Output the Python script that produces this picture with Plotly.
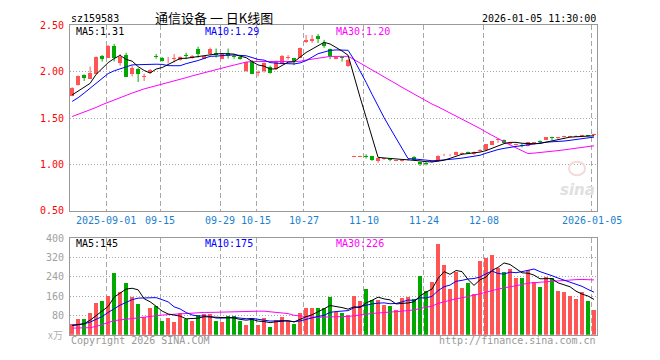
import plotly.graph_objects as go

# ---------------- data ----------------
open_ = [1.743,1.858,1.962,1.927,1.979,2.170,2.153,2.274,2.090,2.180,
         1.980,2.030,1.940,1.990,2.165,2.153,2.132,2.138,2.128,2.172,
         2.146,2.245,2.140,2.187,2.205,2.142,2.205,2.165,2.163,2.007,
         2.118,1.984,2.003,2.050,2.030,2.083,2.150,2.146,2.153,2.320,
         2.333,2.385,2.309,2.250,2.142,2.156,2.060,1.085,1.085,1.090,
         1.094,1.040,1.058,1.053,1.043,1.043,1.045,1.083,1.024,1.008,
         1.026,1.035,1.098,1.098,1.104,1.118,1.132,1.110,1.148,1.153,
         1.215,1.262,1.268,1.222,1.214,1.203,1.200,1.235,1.243,1.268,
         1.292,1.283,1.298,1.298,1.302,1.308,1.308,1.315]
high = [1.833,1.960,1.972,2.055,2.165,2.180,2.290,2.300,2.190,2.205,
        2.070,2.040,1.980,2.030,2.190,2.160,2.160,2.190,2.165,2.205,
        2.180,2.270,2.170,2.260,2.250,2.200,2.250,2.190,2.165,2.105,
        2.125,2.014,2.100,2.066,2.120,2.180,2.180,2.150,2.260,2.396,
        2.396,2.406,2.344,2.250,2.170,2.170,2.135,1.094,1.094,1.110,
        1.094,1.072,1.070,1.060,1.050,1.055,1.060,1.090,1.030,1.025,
        1.040,1.100,1.115,1.110,1.140,1.130,1.140,1.140,1.165,1.220,
        1.250,1.280,1.270,1.235,1.225,1.225,1.245,1.240,1.260,1.295,
        1.300,1.295,1.310,1.310,1.315,1.320,1.315,1.333]
low = [1.736,1.850,1.900,1.927,1.975,2.110,2.150,2.110,2.066,1.944,
       1.950,1.890,1.900,1.980,2.140,2.110,2.090,2.100,2.120,2.135,
       2.140,2.150,2.135,2.180,2.153,2.135,2.142,2.140,2.130,2.000,
       1.975,1.950,1.990,1.980,2.020,2.080,2.130,2.070,2.150,2.310,
       2.310,2.310,2.257,2.135,2.135,2.110,2.050,1.080,1.080,1.065,
       1.040,1.020,1.050,1.035,1.035,1.030,1.040,1.045,0.985,0.990,
       1.020,1.030,1.090,1.090,1.100,1.105,1.115,1.105,1.140,1.150,
       1.210,1.235,1.230,1.210,1.205,1.185,1.195,1.220,1.225,1.265,
       1.260,1.275,1.290,1.295,1.298,1.305,1.300,1.310]
close = [1.823,1.955,1.934,1.986,2.160,2.135,2.274,2.153,2.160,1.944,
         2.040,1.980,1.945,2.020,2.160,2.118,2.136,2.142,2.160,2.168,
         2.170,2.190,2.165,2.250,2.180,2.194,2.170,2.155,2.142,2.100,
         1.979,1.988,2.090,1.990,2.110,2.170,2.155,2.111,2.257,2.344,
         2.354,2.354,2.274,2.170,2.163,2.153,2.130,1.090,1.090,1.085,
         1.049,1.070,1.062,1.050,1.046,1.046,1.052,1.049,1.003,1.005,
         1.030,1.094,1.102,1.102,1.135,1.122,1.128,1.132,1.152,1.218,
         1.250,1.268,1.235,1.226,1.218,1.200,1.240,1.238,1.240,1.292,
         1.290,1.287,1.302,1.302,1.306,1.312,1.305,1.325]

ma5 = [1.750,1.790,1.830,1.875,1.972,2.034,2.098,2.142,2.176,2.133,
       2.114,2.055,2.014,1.986,2.029,2.045,2.076,2.115,2.143,2.145,
       2.155,2.166,2.171,2.189,2.191,2.196,2.192,2.190,2.168,2.152,
       2.109,2.073,2.060,2.029,2.031,2.070,2.103,2.107,2.161,2.207,
       2.244,2.284,2.317,2.299,2.263,2.223,2.178,1.941,1.725,1.510,
       1.289,1.077,1.071,1.063,1.055,1.055,1.051,1.049,1.039,1.031,
       1.028,1.036,1.047,1.067,1.093,1.111,1.118,1.124,1.134,1.150,
       1.176,1.204,1.225,1.239,1.239,1.229,1.224,1.224,1.227,1.242,
       1.260,1.269,1.282,1.295,1.297,1.302,1.305,1.310]
ma10 = [1.680,1.720,1.770,1.820,1.870,1.930,1.980,2.010,2.035,2.052,
        2.074,2.077,2.078,2.081,2.081,2.079,2.066,2.065,2.065,2.087,
        2.100,2.121,2.143,2.166,2.168,2.176,2.179,2.180,2.178,2.172,
        2.153,2.132,2.125,2.099,2.092,2.089,2.088,2.084,2.095,2.119,
        2.157,2.194,2.212,2.230,2.235,2.234,2.231,2.129,2.012,1.886,
        1.756,1.627,1.506,1.394,1.283,1.172,1.064,1.060,1.051,1.043,
        1.041,1.044,1.048,1.053,1.062,1.069,1.077,1.085,1.100,1.122,
        1.144,1.161,1.174,1.187,1.195,1.203,1.214,1.225,1.233,1.241,
        1.245,1.247,1.253,1.261,1.270,1.281,1.287,1.296]
ma30 = [1.517,1.540,1.565,1.590,1.615,1.645,1.672,1.697,1.722,1.745,
        1.770,1.795,1.815,1.832,1.848,1.865,1.883,1.900,1.918,1.936,
        1.955,1.973,1.990,2.007,2.024,2.040,2.056,2.072,2.088,2.104,
        2.109,2.110,2.115,2.115,2.114,2.115,2.111,2.109,2.113,2.126,
        2.136,2.149,2.160,2.165,2.165,2.166,2.166,2.131,2.095,2.059,
        2.022,1.984,1.948,1.908,1.870,1.832,1.794,1.757,1.719,1.683,
        1.651,1.622,1.589,1.559,1.527,1.492,1.457,1.425,1.388,1.350,
        1.314,1.277,1.243,1.211,1.180,1.148,1.118,1.123,1.128,1.135,
        1.143,1.150,1.158,1.167,1.175,1.184,1.193,1.202]

volume = [45,64,64,88,132,140,160,256,176,212,
          156,128,72,112,120,56,68,52,88,64,
          56,80,84,84,56,52,76,76,56,40,
          68,40,68,32,60,72,56,44,88,112,
          112,112,112,156,92,88,80,160,140,188,
          144,144,124,120,104,152,156,148,244,180,
          216,376,288,188,260,192,212,168,304,316,
          328,276,260,272,236,236,268,220,196,240,
          236,180,176,160,148,176,140,104]
vma5 = [37,40,45,60,78.6,97.6,116.8,155.2,172.8,188.8,
        192,185.6,148.8,136,117.6,97.6,85.6,81.6,76.8,65.6,
        65.6,68,74.4,73.6,72,71.2,70.4,68.8,63.2,60,
        63.2,56,54.4,49.6,53.6,54.4,57.6,52.8,64,74.4,
        82.4,93.6,107.2,120.8,116.8,112,105.6,115.2,112,131.2,
        142.4,155.2,148,144,127.2,128.8,131.2,136,160.8,176,
        188.8,232.8,260.8,249.6,265.6,260.8,228,204,227.2,238.4,
        265.6,278.4,296.8,290.4,274.4,256,254.4,246.4,231.2,232,
        232,214.4,205.6,198.4,180,168,160,145.6]
vma10 = [40,42,45,52,62,75,92,108,122,133.7,
         144.8,151.2,152,154.4,153.2,144.8,135.6,115.2,106.4,91.6,
         81.6,76.8,78,75.2,68.8,68.4,69.2,71.6,68.4,66,
         67.2,63.2,61.6,56.4,56.8,58.8,56.8,53.6,56.8,64,
         68.4,75.6,80,92.4,95.6,97.2,99.6,111.2,116.4,124,
         127.2,130.4,131.6,128,129.2,135.6,143.2,142,152.4,151.6,
         158.8,182,198.4,205.2,220.8,224.8,230.4,232.4,238.4,252,
         263.2,253.2,250.4,258.8,256.4,260.8,266.4,271.6,260.8,253.2,
         244,234.4,226,214.8,206,200,187.2,175.6]
vma30 = [27,27,27,29,34,42,52,58,61,64,
         68,72,75,77,79,81,83,85,87,88,
         90,91,92,92,93,93,93,94,95,97.1,
         97.9,97.1,97.2,95.3,92.9,90.7,87.2,80.1,77.2,73.9,
         72.4,71.9,73.2,74.7,73.7,74.8,75.2,78.8,80.5,84.7,
         87.6,89.7,91.1,92.3,93.9,97.2,99.9,102.3,108.5,113.2,
         118.1,129.3,136.7,141.9,148.5,152.5,157.7,161.9,169.1,175.9,
         183.1,188.5,193.5,197.3,202.1,207.1,213.3,215.3,217.2,218.9,
         222,223.2,224.9,226.3,227.7,228.5,228,226.5]

tick_bar = [6, 15, 25, 31, 39, 49, 59, 69, 87]
tick_labels = ["2025-09-01", "09-15", "09-29", "10-15", "10-27",
               "11-10", "11-24", "12-08", "2026-01-05"]
price_ticks = [0.5, 1.0, 1.5, 2.0, 2.5]
price_tick_text = ["0.50", "1.00", "1.50", "2.00", "2.50"]
vol_ticks = [80, 160, 240, 320, 400]
vol_tick_text = ["80", "160", "240", "320", "400"]
price_ma_text = ["MA5:1.31", "MA10:1.29", "MA30:1.20"]
vol_ma_text = ["MA5:145", "MA10:175", "MA30:226"]

N = len(close)
for arr in (open_, high, low, ma5, ma10, ma30, volume, vma5, vma10, vma30):
    assert len(arr) == N, len(arr)

# ---------------- styling ----------------
W, H = 660, 360
RED, GREEN = "#ff5555", "#00a800"
GRID = "#a8a8a8"
BORDER = "#999999"
MONO = "DejaVu Sans Mono"
L, R = 70, 597


def px(x):
    return x / W


def py(y):
    return 1 - y / H


x = list(range(N))
up = [c >= o for o, c in zip(open_, close)]
colors = [RED if u else GREEN for u in up]
body_base = [min(o, c) for o, c in zip(open_, close)]
body_h = [max(abs(c - o), 0.009) for o, c in zip(open_, close)]

fig = go.Figure()

# wicks
for flag, col in ((True, RED), (False, GREEN)):
    wx, wy = [], []
    for i in range(N):
        if up[i] == flag:
            wx += [i, i, None]
            wy += [low[i], high[i], None]
    fig.add_trace(go.Scatter(x=wx, y=wy, mode="lines",
                             line=dict(color=col, width=1),
                             xaxis="x", yaxis="y", hoverinfo="skip"))

# bodies
fig.add_trace(go.Bar(x=x, y=body_h, base=body_base, width=0.75,
                     marker=dict(color=colors, line=dict(width=0)),
                     xaxis="x", yaxis="y"))

# price MAs
for arr, col in ((ma30, "#ff00ff"), (ma10, "#0000ff"), (ma5, "#000000")):
    fig.add_trace(go.Scatter(x=x, y=arr, mode="lines",
                             line=dict(color=col, width=1),
                             xaxis="x", yaxis="y"))

# volume
fig.add_trace(go.Bar(x=x, y=volume, width=0.75,
                     marker=dict(color=colors, line=dict(width=0)),
                     xaxis="x2", yaxis="y2"))
for arr, col in ((vma30, "#ff00ff"), (vma10, "#0000ff"), (vma5, "#000000")):
    fig.add_trace(go.Scatter(x=x, y=arr, mode="lines",
                             line=dict(color=col, width=1),
                             xaxis="x2", yaxis="y2"))

xr = [-0.36, 87.5]
tickpos = [t - 0.35 for t in tick_bar]
common_x = dict(domain=[px(L), px(R)], range=xr, tickvals=tickpos,
                showgrid=True, gridcolor=GRID, griddash="5px,3px",
                gridwidth=1, showline=True, mirror=True, linecolor=BORDER,
                linewidth=1, zeroline=False, ticks="", fixedrange=True)
common_y = dict(showgrid=True, gridcolor=GRID, griddash="1px,2px",
                gridwidth=1, showline=True, mirror=True, linecolor=BORDER,
                linewidth=1, zeroline=False, ticks="outside", ticklen=3,
                tickcolor="rgba(0,0,0,0)", fixedrange=True)

fig.update_layout(
    width=W, height=H, margin=dict(l=0, r=0, t=0, b=0),
    paper_bgcolor="white", plot_bgcolor="white",
    showlegend=False, hovermode=False, bargap=0,
    xaxis=dict(**common_x, anchor="y", showticklabels=False),
    yaxis=dict(**common_y, domain=[py(212), py(20)], range=[0.5, 2.5],
               tickvals=price_ticks, ticktext=price_tick_text,
               tickfont=dict(family=MONO, size=10, color="#ff0000")),
    xaxis2=dict(**common_x, anchor="y2", showticklabels=False),
    yaxis2=dict(**common_y, domain=[py(340), py(240)], range=[0, 400],
                tickvals=vol_ticks, ticktext=vol_tick_text,
                tickfont=dict(family=MONO, size=10, color="#a0a0a0")),
)

# date labels under the price panel, placed at the tick positions
for tp, tl in zip(tickpos, tick_labels):
    fig.add_annotation(text=tl, x=tp, xref="x", y=py(222), yref="paper",
                       xanchor="center", yanchor="middle", showarrow=False,
                       font=dict(family=MONO, size=10, color="#1b7fcf"))


def note(text, xp, yp, xanchor="left", color="#000", size=10, family=MONO, **kw):
    fig.add_annotation(text=text, x=px(xp), y=py(yp), xref="paper", yref="paper",
                       xanchor=xanchor, yanchor="middle", showarrow=False,
                       font=dict(family=family, size=size, color=color), **kw)


note("sz159583", 69, 13)
note("通信设备 一 日K线图", 214, 12, xanchor="center", size=13,
     family="Noto Sans CJK SC")
note("2026-01-05 11:30:00", 598, 13, xanchor="right")

note(price_ma_text[0], 74, 26)
note(price_ma_text[1], 203, 26, color="#0000ff")
note(price_ma_text[2], 334, 26, color="#ff00ff")

note(vol_ma_text[0], 74, 246)
note(vol_ma_text[1], 203, 246, color="#0000ff")
note(vol_ma_text[2], 334, 246, color="#ff00ff")

note("x万", 65, 340, xanchor="right", color="#b0b0b0", family="Noto Sans CJK SC", size=10)
note("Copyright 2026 SINA.COM", 69, 346, color="#999999")
note("http://finance.sina.com.cn", 598, 346, xanchor="right", color="#999999")

# faint sina watermark
fig.add_shape(type="circle", xref="paper", yref="paper",
              x0=px(569), x1=px(585), y0=py(175), y1=py(161),
              line=dict(color="#f5dada", width=2))
note("<b><i>sina</i></b>", 577, 190, xanchor="center", color="#e0e0e0",
     size=15, family="DejaVu Sans")

fig.write_html("out.html",
               config={"displayModeBar": False, "staticPlot": True},
               post_script="document.body.style.margin='0';"
                           "document.body.style.overflow='hidden';")
